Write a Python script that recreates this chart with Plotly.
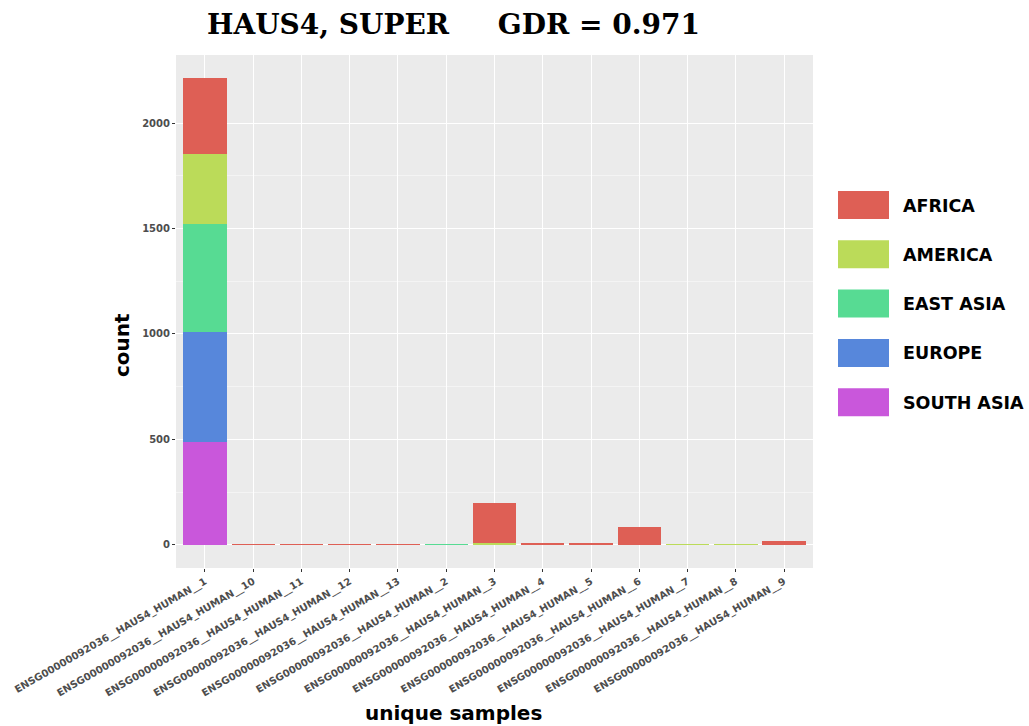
import plotly.graph_objects as go

# Unique sample haplotypes and their counts per super-population
samples = [
    "ENSG00000092036__HAUS4_HUMAN__1", "ENSG00000092036__HAUS4_HUMAN__10",
    "ENSG00000092036__HAUS4_HUMAN__11", "ENSG00000092036__HAUS4_HUMAN__12",
    "ENSG00000092036__HAUS4_HUMAN__13", "ENSG00000092036__HAUS4_HUMAN__2",
    "ENSG00000092036__HAUS4_HUMAN__3", "ENSG00000092036__HAUS4_HUMAN__4",
    "ENSG00000092036__HAUS4_HUMAN__5", "ENSG00000092036__HAUS4_HUMAN__6",
    "ENSG00000092036__HAUS4_HUMAN__7", "ENSG00000092036__HAUS4_HUMAN__8",
    "ENSG00000092036__HAUS4_HUMAN__9",
]
regions = ["AFRICA", "AMERICA", "EAST ASIA", "EUROPE", "SOUTH ASIA"]
colors = ["#DE5F55", "#BBDB59", "#57DB93", "#5787DB", "#C957DB"]

south_asia = [489, 0, 0, 0, 0, 0, 0, 0, 0, 0, 0, 0, 0]
europe = [520, 0, 0, 0, 0, 0, 0, 0, 0, 0, 0, 0, 0]
east_asia = [513, 0, 0, 0, 0, 1, 0, 0, 0, 0, 0, 0, 0]
america = [333, 0, 0, 0, 0, 0, 8, 0, 0, 0, 1, 1, 0]
africa = [358, 1, 1, 1, 1, 0, 192, 7, 7, 86, 0, 0, 19]

region_values = {
    "SOUTH ASIA": south_asia,
    "EUROPE": europe,
    "EAST ASIA": east_asia,
    "AMERICA": america,
    "AFRICA": africa,
}

W, H = 1029, 726
L, R, T, B = 176, 813, 55, 568

fig = go.Figure()
# stack from the bottom: South Asia first, Africa on top
for name in ["SOUTH ASIA", "EUROPE", "EAST ASIA", "AMERICA", "AFRICA"]:
    fig.add_trace(go.Bar(
        x=samples, y=region_values[name], name=name,
        marker=dict(color=colors[regions.index(name)], line=dict(width=0)),
        width=0.9, showlegend=False,
    ))

total_max = max(sum(v[i] for v in region_values.values()) for i in range(len(samples)))
pad = total_max * 0.05


def px_x(p):
    return (p - L) / (R - L)


def px_y(p):
    return (B - p) / (B - T)


shapes = []
annotations = []
# hand-built legend with large keys
for i, name in enumerate(regions):
    top = 191 + i * 49.3
    shapes.append(dict(
        type="rect", xref="paper", yref="paper",
        x0=px_x(838), x1=px_x(889), y0=px_y(top + 28), y1=px_y(top),
        fillcolor=colors[i], line=dict(width=0),
    ))
    annotations.append(dict(
        xref="paper", yref="paper", x=px_x(901), y=px_y(top + 14.5),
        text=f"<b>{name}</b>", showarrow=False, xanchor="left", yanchor="middle",
        font=dict(family="DejaVu Sans", size=17.5, color="#000000"),
    ))

annotations.append(dict(
    xref="paper", yref="paper", x=px_x(453.5), y=px_y(713),
    text="<b>unique samples</b>", showarrow=False, xanchor="center", yanchor="middle",
    font=dict(family="DejaVu Sans", size=20, color="#000000"),
))
annotations.append(dict(
    xref="paper", yref="paper", x=px_x(122), y=px_y(345),
    text="<b>count</b>", showarrow=False, xanchor="center", yanchor="middle",
    textangle=-90, font=dict(family="DejaVu Sans", size=20, color="#000000"),
))

fig.update_layout(
    width=W, height=H,
    margin=dict(l=L, r=W - R, t=T, b=H - B, autoexpand=False),
    paper_bgcolor="#FFFFFF", plot_bgcolor="#EBEBEB",
    barmode="stack", bargap=0.1,
    title=dict(
        text="<b>HAUS4, SUPER     GDR = 0.971</b>",
        x=453.5 / W, xref="container", xanchor="center",
        y=1 - 24 / H, yanchor="middle",
        font=dict(family="DejaVu Serif", size=28, color="#000000"),
    ),
    shapes=shapes, annotations=annotations,
    xaxis=dict(
        type="category", categoryorder="array", categoryarray=samples,
        range=[-0.6, len(samples) - 0.4],
        showgrid=True, gridcolor="#FFFFFF", gridwidth=1.1,
        ticks="outside", ticklen=3, tickcolor="#333333", tickwidth=1,
        tickangle=-30,
        tickfont=dict(family="DejaVu Sans", size=10, color="#4D4D4D", weight="bold"),
        zeroline=False, showline=False,
    ),
    yaxis=dict(
        range=[-pad, total_max + pad],
        tickvals=[0, 500, 1000, 1500, 2000],
        showgrid=True, gridcolor="#FFFFFF", gridwidth=1.1,
        minor=dict(tickvals=[250, 750, 1250, 1750], showgrid=True,
                   gridcolor="#F4F4F4", gridwidth=0.6, ticks=""),
        ticks="outside", ticklen=3, tickcolor="#333333", tickwidth=1,
        tickfont=dict(family="DejaVu Sans", size=10, color="#4D4D4D", weight="bold"),
        zeroline=False, showline=False,
    ),
)

fig.write_html("out.html")
